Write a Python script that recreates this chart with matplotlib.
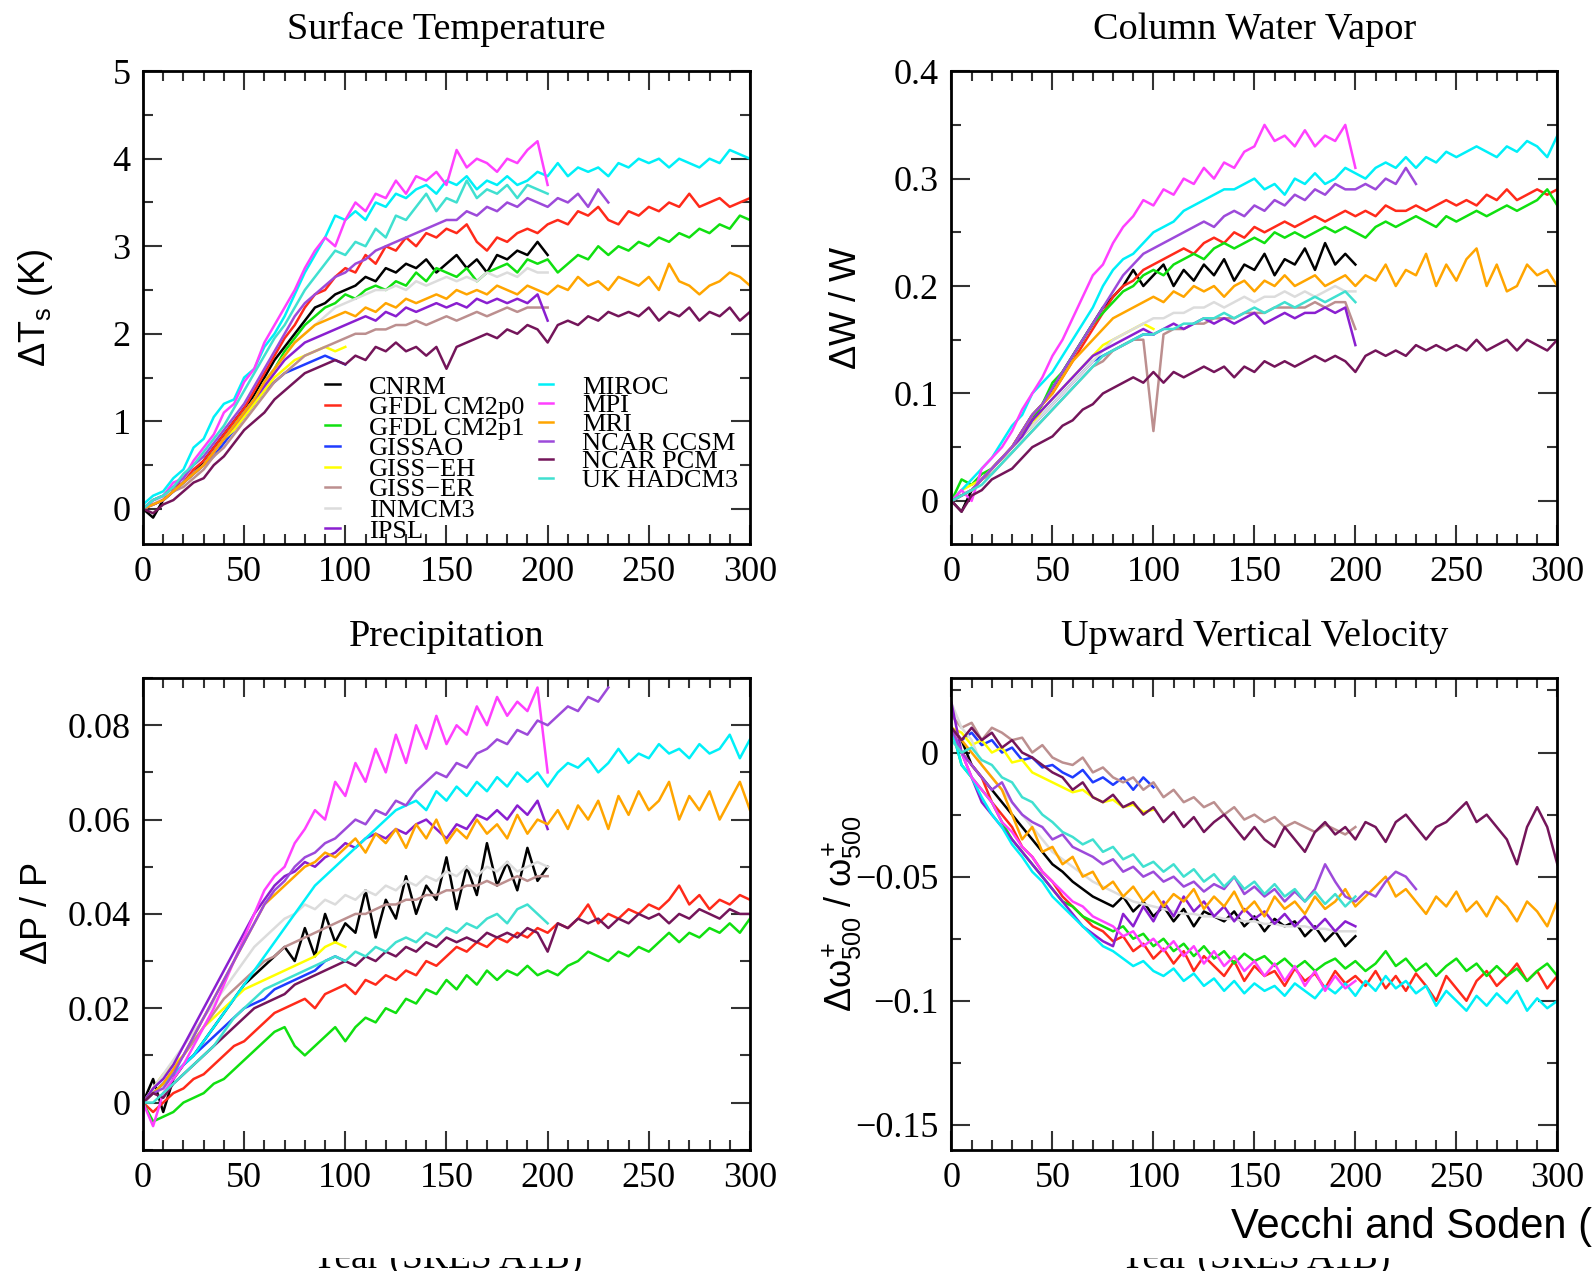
import numpy as np
import matplotlib
matplotlib.use("Agg")
import matplotlib.pyplot as plt
from matplotlib.patches import Rectangle
from matplotlib.ticker import MultipleLocator, FuncFormatter

plt.rcParams["font.family"] = ["Liberation Serif", "DejaVu Serif"]
plt.rcParams["mathtext.fontset"] = "custom"
plt.rcParams["mathtext.rm"] = "Liberation Sans"
plt.rcParams["mathtext.it"] = "Liberation Sans"
plt.rcParams["mathtext.bf"] = "Liberation Sans:bold"

models = ["CNRM", "GFDL CM2p0", "GFDL CM2p1", "GISSAO", "GISS\u2212EH", "GISS\u2212ER",
          "INMCM3", "IPSL", "MIROC", "MPI", "MRI", "NCAR CCSM", "NCAR PCM", "UK HADCM3"]
colors = ["#000000", "#ff2a1a", "#10e010", "#1f3cff", "#ffff00", "#bc8f8f",
          "#dcdcdc", "#8a1fd0", "#00f0f8", "#ff40ff", "#ffa500", "#9d4ada", "#74155a", "#40e0d0"]
STEP = 5

# ---- surface temperature (K)
ts_cnrm = [0.0, -0.1, 0.1, 0.2, 0.3, 0.4, 0.55, 0.7, 0.85, 1.0, 1.15, 1.3, 1.5, 1.7, 1.85, 2.0, 2.15, 2.3, 2.35, 2.45,
           2.5, 2.55, 2.65, 2.6, 2.75, 2.7, 2.8, 2.75, 2.85, 2.7, 2.8, 2.9, 2.75, 2.85, 2.7, 2.9, 2.85, 2.95, 2.9, 3.05, 2.9]
ts_gfdl0 = [0.0, 0.05, 0.1, 0.25, 0.3, 0.45, 0.55, 0.7, 0.85, 1.0, 1.15, 1.35, 1.55, 1.75, 1.95, 2.1, 2.3, 2.45, 2.5, 2.65,
            2.75, 2.7, 2.9, 2.8, 3.0, 2.95, 3.1, 3.0, 3.15, 3.1, 3.2, 3.15, 3.25, 3.05, 2.95, 3.1, 3.05, 3.15, 3.2, 3.15,
            3.25, 3.3, 3.25, 3.4, 3.35, 3.45, 3.3, 3.25, 3.4, 3.35, 3.45, 3.4, 3.5, 3.45, 3.6, 3.45, 3.5, 3.55, 3.45, 3.5, 3.55]
ts_gfdl1 = [0.0, 0.1, 0.15, 0.2, 0.3, 0.4, 0.5, 0.65, 0.8, 0.95, 1.1, 1.25, 1.45, 1.6, 1.8, 1.95, 2.1, 2.2, 2.3, 2.35,
            2.45, 2.4, 2.5, 2.55, 2.5, 2.6, 2.55, 2.7, 2.6, 2.75, 2.7, 2.65, 2.75, 2.6, 2.7, 2.75, 2.8, 2.7, 2.85, 2.8,
            2.85, 2.7, 2.8, 2.9, 2.85, 3.0, 2.9, 3.0, 2.95, 3.05, 3.0, 3.1, 3.05, 3.15, 3.1, 3.2, 3.15, 3.25, 3.2, 3.35, 3.3]
ts_gissao = [0.0, 0.05, 0.1, 0.2, 0.3, 0.4, 0.5, 0.6, 0.75, 0.9, 1.05, 1.2, 1.35, 1.45, 1.55, 1.6, 1.65, 1.7, 1.75, 1.7, 1.65]
ts_gisseh = [0.0, 0.1, 0.15, 0.2, 0.3, 0.4, 0.5, 0.65, 0.8, 0.9, 1.05, 1.2, 1.35, 1.5, 1.6, 1.7, 1.75, 1.8, 1.85, 1.8, 1.85]
ts_gisser = [0.0, 0.05, 0.1, 0.2, 0.25, 0.35, 0.45, 0.6, 0.7, 0.85, 1.0, 1.15, 1.3, 1.45, 1.55, 1.65, 1.75, 1.8, 1.85, 1.9,
             1.95, 2.0, 2.0, 2.05, 2.05, 2.1, 2.1, 2.15, 2.1, 2.15, 2.2, 2.15, 2.2, 2.25, 2.2, 2.25, 2.3, 2.25, 2.3, 2.3, 2.3]
ts_inmcm3 = [0.0, 0.05, 0.15, 0.2, 0.3, 0.4, 0.5, 0.65, 0.8, 0.95, 1.1, 1.25, 1.45, 1.6, 1.75, 1.9, 2.0, 2.1, 2.2, 2.3,
             2.35, 2.4, 2.45, 2.5, 2.5, 2.55, 2.5, 2.6, 2.55, 2.6, 2.65, 2.6, 2.65, 2.6, 2.7, 2.65, 2.7, 2.65, 2.75, 2.7, 2.7]
ts_ipsl = [0.0, 0.05, 0.1, 0.2, 0.3, 0.4, 0.5, 0.65, 0.8, 0.95, 1.1, 1.25, 1.4, 1.55, 1.7, 1.8, 1.9, 1.95, 2.0, 2.05,
           2.1, 2.15, 2.2, 2.15, 2.25, 2.2, 2.3, 2.25, 2.3, 2.35, 2.3, 2.35, 2.3, 2.4, 2.35, 2.4, 2.35, 2.4, 2.35, 2.45, 2.15]
ts_miroc = [0.05, 0.15, 0.2, 0.35, 0.45, 0.7, 0.8, 1.05, 1.2, 1.25, 1.5, 1.6, 1.85, 2.0, 2.2, 2.45, 2.7, 2.9, 3.1, 3.35,
            3.3, 3.4, 3.3, 3.5, 3.45, 3.6, 3.55, 3.65, 3.7, 3.6, 3.75, 3.7, 3.8, 3.65, 3.75, 3.7, 3.8, 3.7, 3.75, 3.85,
            3.8, 3.95, 3.8, 3.9, 3.85, 3.9, 3.8, 3.95, 3.9, 4.0, 3.95, 4.0, 3.9, 4.0, 3.95, 3.9, 4.0, 3.95, 4.1, 4.05, 4.0]
ts_mpi = [0.0, 0.1, 0.15, 0.3, 0.35, 0.55, 0.7, 0.85, 1.1, 1.2, 1.45, 1.6, 1.9, 2.1, 2.3, 2.5, 2.75, 2.95, 3.1, 3.0,
          3.3, 3.5, 3.4, 3.6, 3.55, 3.75, 3.6, 3.8, 3.75, 3.85, 3.7, 4.1, 3.9, 4.0, 3.95, 3.85, 4.0, 3.95, 4.1, 4.2, 3.7]
ts_mri = [0.0, 0.05, 0.1, 0.2, 0.3, 0.4, 0.5, 0.65, 0.8, 0.95, 1.1, 1.25, 1.45, 1.6, 1.75, 1.9, 2.0, 2.1, 2.15, 2.2,
          2.25, 2.2, 2.3, 2.25, 2.35, 2.3, 2.4, 2.35, 2.4, 2.45, 2.4, 2.5, 2.45, 2.5, 2.45, 2.55, 2.5, 2.45, 2.55, 2.5,
          2.45, 2.55, 2.5, 2.65, 2.55, 2.6, 2.5, 2.65, 2.6, 2.55, 2.65, 2.5, 2.8, 2.6, 2.55, 2.45, 2.55, 2.6, 2.7, 2.65, 2.55]
ts_ccsm = [0.0, 0.1, 0.15, 0.25, 0.35, 0.5, 0.6, 0.75, 0.9, 1.05, 1.2, 1.4, 1.6, 1.8, 2.0, 2.2, 2.35, 2.45, 2.55, 2.65,
           2.7, 2.8, 2.85, 2.95, 3.0, 3.05, 3.1, 3.15, 3.2, 3.25, 3.3, 3.3, 3.4, 3.35, 3.45, 3.4, 3.5, 3.45, 3.55, 3.5,
           3.45, 3.55, 3.5, 3.6, 3.45, 3.65, 3.5]
ts_pcm = [0.0, -0.05, 0.05, 0.1, 0.2, 0.3, 0.35, 0.5, 0.6, 0.75, 0.9, 1.0, 1.1, 1.25, 1.35, 1.45, 1.55, 1.6, 1.65, 1.7,
          1.65, 1.75, 1.7, 1.85, 1.8, 1.9, 1.8, 1.85, 1.75, 1.85, 1.6, 1.85, 1.9, 1.95, 2.0, 1.95, 2.05, 2.0, 2.1, 2.05,
          1.9, 2.1, 2.15, 2.1, 2.2, 2.15, 2.25, 2.2, 2.25, 2.2, 2.3, 2.15, 2.25, 2.2, 2.3, 2.15, 2.25, 2.2, 2.3, 2.15, 2.25]
ts_hadcm3 = [0.0, 0.1, 0.15, 0.25, 0.4, 0.5, 0.65, 0.8, 0.95, 1.15, 1.35, 1.55, 1.75, 1.95, 2.1, 2.3, 2.5, 2.65, 2.8, 2.95,
             2.9, 3.05, 3.0, 3.2, 3.1, 3.35, 3.3, 3.45, 3.6, 3.4, 3.55, 3.5, 3.75, 3.55, 3.65, 3.6, 3.7, 3.55, 3.7, 3.65, 3.6]

# ---- column water vapor (dW/W)
w_cnrm = [0.0, -0.01, 0.01, 0.02, 0.03, 0.04, 0.05, 0.065, 0.08, 0.09, 0.105, 0.12, 0.135, 0.15, 0.165, 0.18, 0.19, 0.2,
          0.215, 0.2, 0.21, 0.22, 0.2, 0.215, 0.205, 0.22, 0.21, 0.225, 0.205, 0.22, 0.215, 0.23, 0.21, 0.225, 0.22, 0.235,
          0.215, 0.24, 0.22, 0.23, 0.22]
w_gfdl0 = [0.0, 0.005, 0.01, 0.02, 0.03, 0.04, 0.05, 0.065, 0.075, 0.09, 0.1, 0.115, 0.13, 0.145, 0.16, 0.175, 0.19, 0.2,
           0.205, 0.215, 0.22, 0.225, 0.23, 0.235, 0.23, 0.24, 0.245, 0.24, 0.25, 0.245, 0.255, 0.25, 0.255, 0.26, 0.255,
           0.26, 0.265, 0.26, 0.265, 0.27, 0.265, 0.27, 0.265, 0.275, 0.27, 0.27, 0.275, 0.27, 0.275, 0.28, 0.275, 0.28,
           0.275, 0.285, 0.28, 0.29, 0.28, 0.285, 0.29, 0.285, 0.29]
w_gfdl1 = [0.0, 0.02, 0.015, 0.025, 0.03, 0.04, 0.05, 0.06, 0.075, 0.09, 0.11, 0.12, 0.135, 0.15, 0.165, 0.175, 0.185,
           0.195, 0.2, 0.21, 0.215, 0.21, 0.22, 0.225, 0.23, 0.225, 0.235, 0.24, 0.235, 0.24, 0.245, 0.24, 0.25, 0.245,
           0.25, 0.245, 0.25, 0.255, 0.25, 0.255, 0.25, 0.245, 0.255, 0.26, 0.255, 0.26, 0.265, 0.26, 0.255, 0.265, 0.26,
           0.265, 0.27, 0.265, 0.27, 0.275, 0.27, 0.275, 0.28, 0.29, 0.275]
w_gissao = [0.0, 0.005, 0.01, 0.02, 0.03, 0.04, 0.05, 0.06, 0.07, 0.08, 0.09, 0.1, 0.11, 0.12, 0.13, 0.135, 0.14, 0.145,
            0.15, 0.155, 0.155]
w_gisseh = [0.0, 0.01, 0.015, 0.02, 0.03, 0.04, 0.05, 0.06, 0.07, 0.085, 0.095, 0.105, 0.115, 0.125, 0.135, 0.145, 0.15,
            0.155, 0.16, 0.165, 0.16]
w_gisser = [0.0, 0.005, 0.01, 0.02, 0.025, 0.035, 0.045, 0.055, 0.065, 0.075, 0.085, 0.095, 0.105, 0.115, 0.125, 0.13,
            0.14, 0.145, 0.15, 0.15, 0.065, 0.155, 0.16, 0.16, 0.165, 0.165, 0.17, 0.17, 0.17, 0.175, 0.175, 0.175, 0.18,
            0.18, 0.18, 0.18, 0.185, 0.18, 0.185, 0.185, 0.16]
w_inmcm3 = [0.0, 0.005, 0.01, 0.02, 0.03, 0.04, 0.05, 0.06, 0.07, 0.08, 0.09, 0.1, 0.11, 0.12, 0.13, 0.14, 0.15, 0.155,
            0.16, 0.165, 0.17, 0.17, 0.175, 0.175, 0.18, 0.18, 0.185, 0.18, 0.185, 0.19, 0.185, 0.19, 0.19, 0.195, 0.19,
            0.195, 0.19, 0.195, 0.2, 0.195, 0.195]
w_ipsl = [0.0, 0.005, 0.01, 0.02, 0.03, 0.04, 0.05, 0.06, 0.075, 0.085, 0.095, 0.105, 0.115, 0.125, 0.135, 0.14, 0.145,
          0.15, 0.155, 0.16, 0.155, 0.16, 0.165, 0.16, 0.165, 0.17, 0.165, 0.17, 0.165, 0.17, 0.175, 0.165, 0.17, 0.175,
          0.17, 0.175, 0.175, 0.18, 0.175, 0.18, 0.145]
w_miroc = [0.0, 0.01, 0.02, 0.03, 0.04, 0.055, 0.07, 0.08, 0.1, 0.11, 0.12, 0.135, 0.15, 0.165, 0.18, 0.2, 0.215, 0.225,
           0.23, 0.24, 0.25, 0.255, 0.26, 0.27, 0.275, 0.28, 0.285, 0.29, 0.29, 0.295, 0.3, 0.29, 0.295, 0.285, 0.3, 0.295,
           0.305, 0.295, 0.3, 0.31, 0.305, 0.3, 0.31, 0.315, 0.31, 0.32, 0.31, 0.32, 0.315, 0.325, 0.32, 0.325, 0.33,
           0.325, 0.32, 0.33, 0.325, 0.335, 0.33, 0.32, 0.34]
w_mpi = [0.0, 0.01, 0.0, 0.03, 0.04, 0.05, 0.065, 0.085, 0.1, 0.115, 0.135, 0.15, 0.17, 0.19, 0.21, 0.22, 0.24, 0.255,
         0.265, 0.28, 0.275, 0.29, 0.285, 0.3, 0.295, 0.31, 0.3, 0.315, 0.31, 0.325, 0.33, 0.35, 0.335, 0.34, 0.33, 0.345,
         0.33, 0.34, 0.335, 0.35, 0.31]
w_mri = [0.0, 0.005, 0.01, 0.02, 0.03, 0.04, 0.05, 0.065, 0.08, 0.09, 0.1, 0.115, 0.13, 0.14, 0.15, 0.16, 0.17, 0.175,
         0.18, 0.185, 0.19, 0.185, 0.195, 0.19, 0.2, 0.195, 0.2, 0.19, 0.2, 0.205, 0.195, 0.205, 0.2, 0.21, 0.2, 0.205,
         0.21, 0.2, 0.205, 0.21, 0.2, 0.21, 0.205, 0.22, 0.2, 0.215, 0.21, 0.23, 0.2, 0.22, 0.205, 0.225, 0.235, 0.2, 0.22,
         0.195, 0.2, 0.22, 0.21, 0.215, 0.2]
w_ccsm = [0.0, 0.005, 0.01, 0.02, 0.03, 0.04, 0.05, 0.065, 0.08, 0.09, 0.105, 0.12, 0.135, 0.15, 0.165, 0.18, 0.195, 0.21,
          0.22, 0.23, 0.235, 0.24, 0.245, 0.25, 0.255, 0.26, 0.255, 0.265, 0.27, 0.265, 0.275, 0.27, 0.28, 0.275, 0.285,
          0.28, 0.29, 0.285, 0.295, 0.29, 0.29, 0.295, 0.29, 0.3, 0.295, 0.31, 0.295]
w_pcm = [0.0, -0.01, 0.005, 0.01, 0.02, 0.025, 0.03, 0.04, 0.05, 0.055, 0.06, 0.07, 0.075, 0.085, 0.09, 0.1, 0.105, 0.11,
         0.115, 0.11, 0.12, 0.11, 0.12, 0.115, 0.12, 0.125, 0.12, 0.125, 0.115, 0.125, 0.12, 0.13, 0.125, 0.13, 0.125,
         0.13, 0.135, 0.13, 0.135, 0.13, 0.12, 0.135, 0.14, 0.135, 0.14, 0.135, 0.145, 0.14, 0.145, 0.14, 0.145, 0.14,
         0.15, 0.14, 0.145, 0.15, 0.14, 0.15, 0.145, 0.14, 0.15]
w_hadcm3 = [0.0, 0.005, 0.01, 0.015, 0.025, 0.035, 0.045, 0.055, 0.065, 0.075, 0.085, 0.095, 0.105, 0.115, 0.125, 0.135,
            0.14, 0.145, 0.15, 0.155, 0.155, 0.16, 0.16, 0.165, 0.165, 0.17, 0.17, 0.175, 0.17, 0.175, 0.18, 0.175, 0.18,
            0.185, 0.18, 0.185, 0.19, 0.185, 0.19, 0.195, 0.185]

# ---- precipitation (dP/P)
p_cnrm = [0.0, 0.005, -0.002, 0.005, 0.008, 0.01, 0.013, 0.016, 0.019, 0.022, 0.025, 0.027, 0.029, 0.031, 0.033, 0.03,
          0.037, 0.031, 0.04, 0.034, 0.038, 0.036, 0.045, 0.035, 0.043, 0.039, 0.048, 0.04, 0.046, 0.043, 0.052, 0.041,
          0.05, 0.044, 0.055, 0.046, 0.051, 0.045, 0.054, 0.047, 0.05]
p_gfdl0 = [0.0, -0.002, 0.0, 0.002, 0.003, 0.005, 0.006, 0.008, 0.01, 0.012, 0.013, 0.015, 0.017, 0.019, 0.02, 0.021,
           0.022, 0.02, 0.023, 0.024, 0.025, 0.023, 0.026, 0.025, 0.027, 0.026, 0.028, 0.027, 0.03, 0.029, 0.031, 0.033,
           0.032, 0.034, 0.033, 0.035, 0.034, 0.036, 0.035, 0.037, 0.036, 0.038, 0.037, 0.039, 0.042, 0.038, 0.04, 0.039,
           0.041, 0.04, 0.042, 0.041, 0.043, 0.046, 0.042, 0.044, 0.041, 0.043, 0.042, 0.044, 0.043]
p_gfdl1 = [0.0, -0.004, -0.003, -0.002, 0.0, 0.001, 0.002, 0.004, 0.005, 0.007, 0.009, 0.011, 0.013, 0.015, 0.016, 0.012,
           0.01, 0.012, 0.014, 0.016, 0.013, 0.016, 0.018, 0.017, 0.02, 0.019, 0.022, 0.021, 0.024, 0.023, 0.026, 0.024,
           0.027, 0.025, 0.028, 0.026, 0.028, 0.027, 0.029, 0.027, 0.028, 0.027, 0.029, 0.03, 0.032, 0.031, 0.03, 0.032,
           0.031, 0.033, 0.032, 0.034, 0.036, 0.034, 0.036, 0.035, 0.037, 0.036, 0.038, 0.036, 0.039]
p_gissao = [0.0, 0.002, 0.004, 0.006, 0.008, 0.01, 0.012, 0.014, 0.016, 0.018, 0.02, 0.021, 0.022, 0.024, 0.025, 0.026,
            0.027, 0.028, 0.03, 0.031, 0.03]
p_gisseh = [0.0, 0.003, 0.006, 0.008, 0.01, 0.013, 0.016, 0.018, 0.02, 0.022, 0.024, 0.025, 0.026, 0.027, 0.028, 0.029,
            0.03, 0.031, 0.033, 0.034, 0.033]
p_gisser = [0.0, 0.002, 0.004, 0.007, 0.01, 0.013, 0.016, 0.019, 0.022, 0.024, 0.026, 0.028, 0.03, 0.031, 0.033, 0.034,
            0.035, 0.036, 0.037, 0.038, 0.039, 0.04, 0.04, 0.041, 0.042, 0.042, 0.043, 0.043, 0.044, 0.044, 0.045, 0.045,
            0.046, 0.046, 0.047, 0.046, 0.047, 0.048, 0.047, 0.048, 0.048]
p_inmcm3 = [0.0, 0.003, 0.006, 0.009, 0.012, 0.015, 0.018, 0.021, 0.024, 0.027, 0.03, 0.033, 0.035, 0.037, 0.039, 0.04,
            0.042, 0.041, 0.043, 0.042, 0.044, 0.043, 0.045, 0.044, 0.046, 0.045, 0.047, 0.046, 0.048, 0.047, 0.049, 0.048,
            0.05, 0.048, 0.05, 0.049, 0.051, 0.049, 0.05, 0.051, 0.05]
p_ipsl = [0.0, 0.003, 0.005, 0.008, 0.012, 0.016, 0.02, 0.024, 0.028, 0.032, 0.036, 0.04, 0.043, 0.046, 0.048, 0.049,
          0.051, 0.05, 0.052, 0.053, 0.055, 0.054, 0.056, 0.057, 0.056, 0.058, 0.057, 0.059, 0.06, 0.058, 0.056, 0.059,
          0.058, 0.061, 0.06, 0.062, 0.06, 0.063, 0.061, 0.064, 0.058]
p_miroc = [0.0, 0.002, 0.004, 0.006, 0.008, 0.01, 0.013, 0.016, 0.019, 0.022, 0.025, 0.028, 0.031, 0.034, 0.037, 0.04,
           0.043, 0.046, 0.048, 0.05, 0.052, 0.054, 0.056, 0.058, 0.06, 0.062, 0.063, 0.064, 0.062, 0.066, 0.064, 0.067,
           0.065, 0.068, 0.066, 0.069, 0.067, 0.07, 0.068, 0.07, 0.067, 0.07, 0.072, 0.071, 0.073, 0.07, 0.072, 0.075,
           0.072, 0.074, 0.073, 0.076, 0.074, 0.075, 0.073, 0.076, 0.074, 0.075, 0.078, 0.073, 0.077]
p_mpi = [0.0, -0.005, 0.002, 0.005, 0.008, 0.012, 0.016, 0.02, 0.025, 0.03, 0.035, 0.04, 0.045, 0.048, 0.05, 0.055, 0.058,
         0.062, 0.06, 0.068, 0.065, 0.072, 0.068, 0.075, 0.07, 0.078, 0.072, 0.08, 0.075, 0.082, 0.076, 0.08, 0.078, 0.084,
         0.08, 0.086, 0.082, 0.085, 0.083, 0.088, 0.07]
p_mri = [0.0, 0.002, 0.004, 0.007, 0.01, 0.014, 0.018, 0.022, 0.026, 0.03, 0.034, 0.038, 0.042, 0.044, 0.046, 0.048, 0.05,
         0.051, 0.053, 0.052, 0.054, 0.056, 0.053, 0.057, 0.055, 0.058, 0.054, 0.059, 0.056, 0.06, 0.055, 0.058, 0.056,
         0.06, 0.057, 0.059, 0.056, 0.061, 0.057, 0.06, 0.059, 0.062, 0.058, 0.063, 0.06, 0.064, 0.058, 0.065, 0.061,
         0.066, 0.062, 0.064, 0.068, 0.06, 0.065, 0.062, 0.066, 0.06, 0.064, 0.068, 0.062]
p_ccsm = [0.0, 0.002, 0.003, 0.006, 0.01, 0.014, 0.018, 0.022, 0.026, 0.03, 0.034, 0.038, 0.042, 0.045, 0.047, 0.05, 0.052,
          0.053, 0.055, 0.056, 0.058, 0.06, 0.059, 0.062, 0.061, 0.064, 0.063, 0.066, 0.068, 0.07, 0.069, 0.072, 0.071,
          0.074, 0.075, 0.077, 0.076, 0.079, 0.078, 0.081, 0.08, 0.082, 0.084, 0.083, 0.086, 0.085, 0.088]
p_pcm = [0.0, 0.002, 0.001, 0.004, 0.006, 0.008, 0.01, 0.012, 0.014, 0.016, 0.018, 0.02, 0.021, 0.022, 0.023, 0.025, 0.026,
         0.027, 0.028, 0.029, 0.03, 0.029, 0.031, 0.03, 0.032, 0.031, 0.033, 0.032, 0.034, 0.033, 0.035, 0.034, 0.035,
         0.034, 0.036, 0.035, 0.036, 0.035, 0.037, 0.036, 0.032, 0.038, 0.037, 0.039, 0.038, 0.039, 0.037, 0.039, 0.038,
         0.04, 0.039, 0.04, 0.038, 0.04, 0.039, 0.041, 0.04, 0.039, 0.041, 0.04, 0.04]
p_hadcm3 = [0.0, 0.0, 0.002, 0.004, 0.006, 0.008, 0.01, 0.012, 0.015, 0.018, 0.02, 0.022, 0.024, 0.025, 0.026, 0.027,
            0.028, 0.029, 0.03, 0.031, 0.03, 0.032, 0.031, 0.033, 0.032, 0.034, 0.035, 0.034, 0.036, 0.035, 0.037, 0.036,
            0.038, 0.037, 0.039, 0.04, 0.038, 0.041, 0.042, 0.04, 0.038]

# ---- upward vertical velocity (d omega+ / omega+ at 500 hPa)
o_cnrm = [0.01, 0.005, -0.005, -0.01, -0.015, -0.02, -0.025, -0.03, -0.035, -0.04, -0.045, -0.048, -0.052, -0.055,
          -0.058, -0.06, -0.062, -0.058, -0.064, -0.06, -0.066, -0.062, -0.068, -0.063, -0.07, -0.064, -0.066, -0.068,
          -0.064, -0.07, -0.066, -0.072, -0.067, -0.07, -0.068, -0.074, -0.07, -0.076, -0.072, -0.078, -0.074]
o_gfdl0 = [0.01, 0.0, -0.005, -0.01, -0.02, -0.025, -0.03, -0.038, -0.042, -0.048, -0.052, -0.058, -0.062, -0.066, -0.07,
           -0.072, -0.076, -0.074, -0.08, -0.077, -0.083, -0.079, -0.085, -0.08, -0.088, -0.082, -0.086, -0.09, -0.084,
           -0.092, -0.086, -0.09, -0.088, -0.094, -0.087, -0.092, -0.089, -0.095, -0.088, -0.093, -0.09, -0.094, -0.088,
           -0.095, -0.09, -0.096, -0.089, -0.094, -0.1, -0.09, -0.095, -0.1, -0.092, -0.088, -0.094, -0.09, -0.085,
           -0.092, -0.088, -0.095, -0.09]
o_gfdl1 = [0.01, -0.005, -0.01, -0.015, -0.02, -0.028, -0.035, -0.04, -0.045, -0.05, -0.055, -0.06, -0.062, -0.066,
           -0.068, -0.07, -0.072, -0.07, -0.075, -0.073, -0.078, -0.075, -0.08, -0.077, -0.082, -0.078, -0.083, -0.08,
           -0.085, -0.081, -0.084, -0.082, -0.086, -0.083, -0.087, -0.084, -0.088, -0.085, -0.083, -0.087, -0.084, -0.088,
           -0.085, -0.08, -0.086, -0.083, -0.088, -0.085, -0.09, -0.086, -0.083, -0.088, -0.085, -0.09, -0.086, -0.09,
           -0.087, -0.092, -0.088, -0.085, -0.09]
o_gissao = [0.01, 0.005, 0.008, 0.003, 0.005, 0.0, 0.002, -0.003, -0.002, -0.006, -0.005, -0.008, -0.01, -0.007, -0.012,
            -0.01, -0.013, -0.01, -0.015, -0.01, -0.014]
o_gisseh = [0.01, 0.008, 0.003, 0.005, 0.0, 0.002, -0.004, -0.003, -0.008, -0.01, -0.012, -0.014, -0.016, -0.015, -0.018,
            -0.02, -0.019, -0.022, -0.021, -0.024, -0.023]
o_gisser = [0.015, 0.01, 0.012, 0.005, 0.01, 0.008, 0.005, 0.006, 0.0, 0.003, -0.002, -0.004, -0.005, -0.002, -0.008,
            -0.006, -0.01, -0.012, -0.01, -0.015, -0.012, -0.018, -0.015, -0.02, -0.018, -0.022, -0.02, -0.025, -0.022,
            -0.027, -0.025, -0.028, -0.026, -0.03, -0.028, -0.03, -0.032, -0.029, -0.031, -0.033, -0.03]
o_inmcm3 = [0.02, 0.01, 0.005, -0.005, -0.01, -0.015, -0.02, -0.025, -0.03, -0.035, -0.04, -0.043, -0.046, -0.049, -0.052,
            -0.054, -0.056, -0.058, -0.06, -0.061, -0.062, -0.063, -0.064, -0.065, -0.065, -0.066, -0.066, -0.067, -0.067,
            -0.068, -0.068, -0.069, -0.069, -0.07, -0.07, -0.07, -0.071, -0.071, -0.072, -0.072, -0.072]
o_ipsl = [0.02, 0.0, -0.01, -0.02, -0.025, -0.03, -0.035, -0.04, -0.045, -0.05, -0.055, -0.06, -0.065, -0.07, -0.073,
          -0.076, -0.078, -0.065, -0.07, -0.062, -0.068, -0.06, -0.066, -0.058, -0.064, -0.06, -0.066, -0.062, -0.068,
          -0.063, -0.067, -0.064, -0.069, -0.065, -0.07, -0.066, -0.071, -0.067, -0.072, -0.068, -0.07]
o_miroc = [0.01, -0.005, -0.01, -0.018, -0.025, -0.03, -0.037, -0.042, -0.048, -0.052, -0.058, -0.062, -0.066, -0.07,
           -0.074, -0.078, -0.08, -0.083, -0.086, -0.084, -0.088, -0.09, -0.087, -0.092, -0.089, -0.094, -0.091, -0.096,
           -0.092, -0.097, -0.093, -0.096, -0.094, -0.098, -0.093, -0.096, -0.099, -0.094, -0.097, -0.093, -0.098, -0.092,
           -0.096, -0.09, -0.095, -0.092, -0.097, -0.094, -0.102, -0.096, -0.1, -0.104, -0.098, -0.102, -0.097, -0.101,
           -0.096, -0.104, -0.099, -0.103, -0.1]
o_mpi = [0.01, 0.0, -0.01, -0.015, -0.02, -0.028, -0.032, -0.038, -0.042, -0.048, -0.052, -0.056, -0.06, -0.062, -0.066,
         -0.068, -0.07, -0.074, -0.072, -0.078, -0.075, -0.08, -0.076, -0.082, -0.078, -0.085, -0.08, -0.086, -0.082,
         -0.088, -0.084, -0.09, -0.085, -0.092, -0.086, -0.094, -0.088, -0.096, -0.09, -0.095, -0.092]
o_mri = [0.01, 0.005, 0.0, -0.005, -0.01, -0.015, -0.025, -0.035, -0.03, -0.04, -0.038, -0.045, -0.042, -0.05, -0.048,
         -0.055, -0.052, -0.058, -0.054, -0.06, -0.056, -0.062, -0.057, -0.06, -0.055, -0.063, -0.058, -0.062, -0.056,
         -0.064, -0.06, -0.066, -0.058, -0.063, -0.06, -0.065, -0.058, -0.063, -0.06, -0.055, -0.062, -0.058, -0.054,
         -0.05, -0.058, -0.055, -0.06, -0.065, -0.058, -0.062, -0.056, -0.064, -0.06, -0.066, -0.058, -0.062, -0.068,
         -0.06, -0.064, -0.07, -0.06]
o_ccsm = [0.01, 0.0, -0.005, -0.01, -0.015, -0.012, -0.02, -0.025, -0.028, -0.03, -0.035, -0.033, -0.038, -0.04, -0.042,
          -0.045, -0.043, -0.048, -0.046, -0.05, -0.048, -0.052, -0.05, -0.054, -0.052, -0.056, -0.053, -0.055, -0.05,
          -0.057, -0.054, -0.058, -0.055, -0.06, -0.056, -0.06, -0.055, -0.045, -0.052, -0.058, -0.06, -0.056, -0.058,
          -0.052, -0.048, -0.05, -0.055]
o_pcm = [0.01, 0.005, 0.01, 0.005, 0.008, 0.002, 0.005, 0.0, -0.002, -0.005, -0.008, -0.01, -0.015, -0.012, -0.018, -0.02,
         -0.017, -0.022, -0.02, -0.025, -0.022, -0.028, -0.024, -0.03, -0.026, -0.032, -0.028, -0.025, -0.03, -0.035,
         -0.03, -0.035, -0.038, -0.03, -0.035, -0.04, -0.032, -0.028, -0.033, -0.03, -0.035, -0.028, -0.03, -0.036,
         -0.028, -0.025, -0.03, -0.035, -0.03, -0.028, -0.024, -0.02, -0.028, -0.025, -0.03, -0.035, -0.045, -0.03,
         -0.022, -0.03, -0.045]
o_hadcm3 = [0.005, 0.0, 0.002, -0.003, -0.005, -0.01, -0.012, -0.018, -0.02, -0.025, -0.028, -0.032, -0.034, -0.037,
            -0.035, -0.04, -0.038, -0.043, -0.041, -0.046, -0.044, -0.048, -0.045, -0.05, -0.047, -0.052, -0.049, -0.054,
            -0.05, -0.055, -0.052, -0.057, -0.053, -0.058, -0.055, -0.06, -0.056, -0.061, -0.057, -0.062, -0.058]

ts_runs = [ts_cnrm, ts_gfdl0, ts_gfdl1, ts_gissao, ts_gisseh, ts_gisser, ts_inmcm3, ts_ipsl,
           ts_miroc, ts_mpi, ts_mri, ts_ccsm, ts_pcm, ts_hadcm3]
w_runs = [w_cnrm, w_gfdl0, w_gfdl1, w_gissao, w_gisseh, w_gisser, w_inmcm3, w_ipsl,
          w_miroc, w_mpi, w_mri, w_ccsm, w_pcm, w_hadcm3]
p_runs = [p_cnrm, p_gfdl0, p_gfdl1, p_gissao, p_gisseh, p_gisser, p_inmcm3, p_ipsl,
          p_miroc, p_mpi, p_mri, p_ccsm, p_pcm, p_hadcm3]
o_runs = [o_cnrm, o_gfdl0, o_gfdl1, o_gissao, o_gisseh, o_gisser, o_inmcm3, o_ipsl,
          o_miroc, o_mpi, o_mri, o_ccsm, o_pcm, o_hadcm3]


def tick_fmt(v, pos):
    return ("%g" % round(v, 6)).replace("-", "\u2212")


def draw_panel(ax, runs, ylim, ymajor, yminor, title, ylabel):
    for name, color, vals in zip(models, colors, runs):
        ax.plot(np.arange(len(vals)) * STEP, vals, color=color, lw=1.8, label=name)
    ax.set_xlim(0, 300)
    ax.set_ylim(*ylim)
    ax.xaxis.set_major_locator(MultipleLocator(50))
    ax.xaxis.set_minor_locator(MultipleLocator(10))
    ax.yaxis.set_major_locator(MultipleLocator(ymajor))
    ax.yaxis.set_minor_locator(MultipleLocator(yminor))
    ax.yaxis.set_major_formatter(FuncFormatter(tick_fmt))
    ax.tick_params(which="both", direction="in", top=True, right=True, width=1.5,
                   labelsize=26, pad=9, color="#333333")
    ax.tick_params(which="major", length=14)
    ax.tick_params(which="minor", length=7)
    for sp in ax.spines.values():
        sp.set_linewidth(2)
    ax.set_title(title, fontsize=27.5, pad=23)
    ax.set_ylabel(ylabel, family="Liberation Sans", fontsize=26)
    ax.yaxis.set_label_coords(-0.145, 0.5)


fig = plt.figure(figsize=(15.94, 12.71), dpi=100)
ax_ts = fig.add_axes([0.0897, 0.5721, 0.3808, 0.3719])
ax_w = fig.add_axes([0.5969, 0.5721, 0.3801, 0.3719])
ax_p = fig.add_axes([0.0897, 0.0954, 0.3808, 0.3711])
ax_o = fig.add_axes([0.5969, 0.0954, 0.3801, 0.3711])

draw_panel(ax_ts, ts_runs, (-0.4, 5), 1, 0.5, "Surface Temperature", r"$\Delta$T$_\mathrm{s}$ (K)")
draw_panel(ax_w, w_runs, (-0.04, 0.4), 0.1, 0.05, "Column Water Vapor", r"$\Delta$W / W")
draw_panel(ax_p, p_runs, (-0.01, 0.09), 0.02, 0.01, "Precipitation", r"$\Delta$P / P")
draw_panel(ax_o, o_runs, (-0.16, 0.03), 0.05, 0.025, "Upward Vertical Velocity",
           r"$\Delta\omega^{+}_{500}$ / $\omega^{+}_{500}$")

# two-column legend, left column has 8 models, right has 6
lines = ax_ts.get_lines()
leg_kw = dict(loc="upper left", frameon=False, fontsize=19, handlelength=0.55,
              handletextpad=1.1, borderpad=0, borderaxespad=0)
leg1 = ax_ts.legend(lines[:8], models[:8], bbox_to_anchor=(0.30, 0.357), labelspacing=-0.11, **leg_kw)
ax_ts.add_artist(leg1)
ax_ts.legend(lines[8:], models[8:], bbox_to_anchor=(0.652, 0.357), labelspacing=-0.18, **leg_kw)

# x labels: only their lower strip shows, the rest is hidden under the citation box
fig.text(0.2801, 0.0024, "Year (SRES A1B)", ha="center", va="baseline", fontsize=27, zorder=1)
fig.text(0.7870, 0.0024, "Year (SRES A1B)", ha="center", va="baseline", fontsize=27, zorder=1)
fig.patches.append(Rectangle((0.0, 0.0102), 1.0, 0.016, transform=fig.transFigure,
                             facecolor="white", edgecolor="none", zorder=2))
fig.text(0.772, 0.0346, "Vecchi and Soden (2007)", family="Liberation Sans", fontsize=30,
         va="center", zorder=3)

fig.savefig("out.png", dpi=100)
